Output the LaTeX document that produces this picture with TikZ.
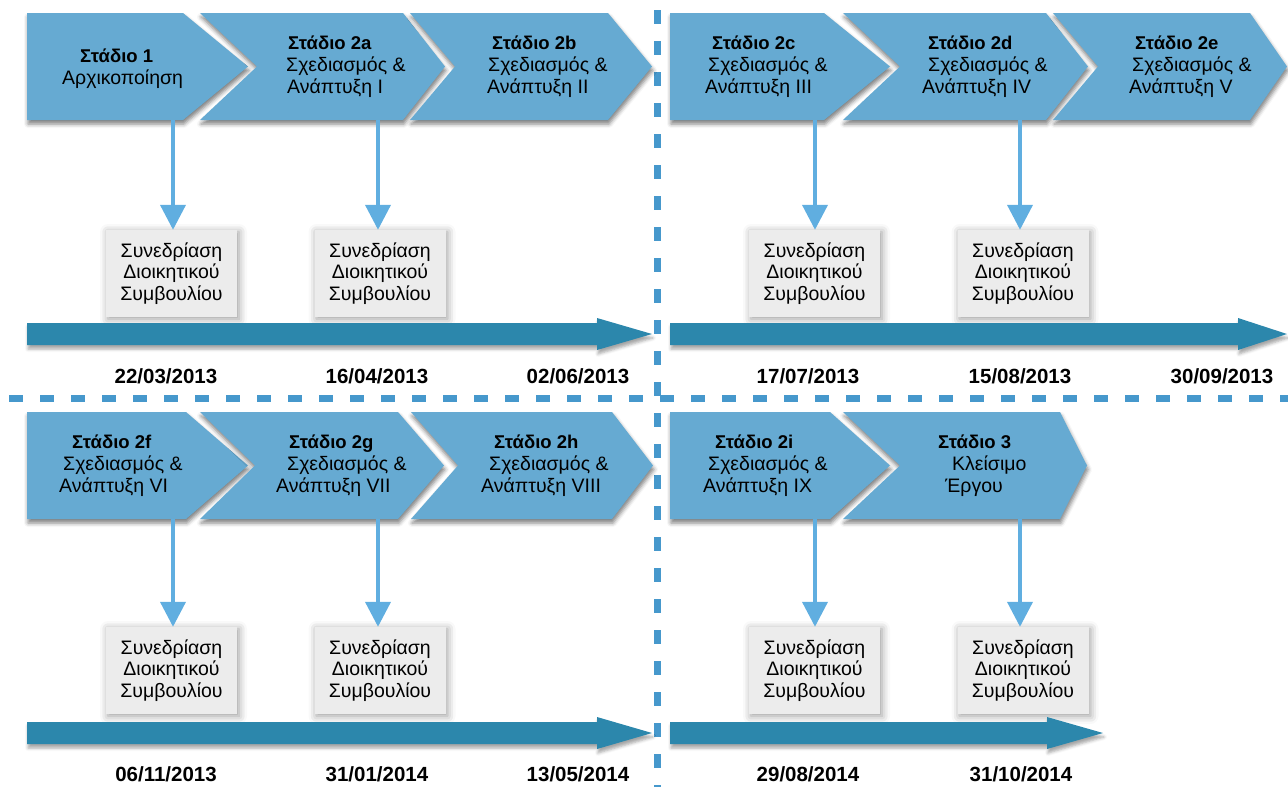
\documentclass[tikz,border=0pt]{standalone}
\usepackage{fontspec}
\setmainfont{Liberation Sans}
\usetikzlibrary{arrows.meta,shadows.blur}

\definecolor{chevfill}{RGB}{102,170,210}
\definecolor{barfill}{RGB}{44,135,172}
\definecolor{sepline}{RGB}{70,152,204}
\definecolor{droparrow}{RGB}{96,174,224}
\definecolor{boxfill}{RGB}{236,236,236}

\newcommand\stagetitle[1]{{\fontsize{18.5}{22}\selectfont\bfseries #1}}

\tikzset{
  chevshape/.style={fill=chevfill,
    blur shadow={shadow xshift=1pt,shadow yshift=-4pt,shadow blur radius=4pt,shadow opacity=50}},
  barshape/.style={fill=barfill,
    blur shadow={shadow xshift=1pt,shadow yshift=-4pt,shadow blur radius=3pt,shadow opacity=35}},
  stagetext/.style={inner sep=0pt,align=left,anchor=west,
    font=\fontsize{19.5}{22}\selectfont},
  meetbox/.style={fill=boxfill,minimum width=131pt,minimum height=87pt,inner sep=0pt,
    align=center,font=\fontsize{19.5}{21.7}\selectfont,
    blur shadow={shadow xshift=2pt,shadow yshift=-2pt,shadow blur radius=8pt,shadow opacity=40}},
  datetext/.style={inner sep=0pt,font=\fontsize{20.5}{22}\selectfont\bfseries},
  dropline/.style={draw=droparrow,line width=4pt,
    -{Triangle[width=25pt,length=25pt]}},
  sepdash/.style={draw=sepline,line width=7pt,
    dash pattern=on 14pt off 17pt,dash phase=21pt}
}

% chevron: left x, notch x, flat x, tip x, top y, bottom y
\newcommand\chevron[6]{%
  \path[chevshape] (#1,#5) -- (#3,#5) -- (#4,{(#5+#6)/2}) -- (#3,#6)
    -- (#1,#6) -- (#2,{(#5+#6)/2}) -- cycle;}
% timeline arrow: left x, head base x, tip x, centre y
\newcommand\timebar[4]{%
  \path[barshape] (#1,{#4-11}) -- (#2,{#4-11}) -- (#2,{#4-16}) -- (#3,#4)
    -- (#2,{#4+16}) -- (#2,{#4+11}) -- (#1,{#4+11}) -- cycle;}

\begin{document}
\begin{tikzpicture}[x=1pt,y=-1pt]
\useasboundingbox (0,0) rectangle (1288,787);

% quadrant separators
\draw[sepdash] (657,0) -- (657,787);
\draw[sepdash,dash phase=22pt] (0,398) -- (1288,398);

% ---------------- top left ----------------
\chevron{27}{27}{183}{248}{13}{120}
\chevron{200}{257}{403}{445}{13}{120}
\chevron{410}{455}{608}{652}{13}{120}
\node[stagetext] (s1) at (62,69) {\hspace*{18pt}\stagetitle{Στάδιο 1}\\Αρχικοποίηση};
\node[stagetext] (s2a) at (286,67) {\hspace*{2pt}\stagetitle{Στάδιο 2a}\\Σχεδιασμός \&\\\hspace*{1pt}Ανάπτυξη I};
\node[stagetext] (s2b) at (487,67) {\hspace*{5pt}\stagetitle{Στάδιο 2b}\\\hspace*{1pt}Σχεδιασμός \&\\Ανάπτυξη II};
\coordinate (b1) at (173,120);
\coordinate (b2) at (378,120);
\node[meetbox] (m1) at (171.5,273.5) {Συνεδρίαση\\Διοικητικού\\Συμβουλίου};
\node[meetbox] (m2) at (380,273.5) {Συνεδρίαση\\Διοικητικού\\Συμβουλίου};
\draw[dropline] (b1) -- (b1 |- m1.north);
\draw[dropline] (b2) -- (b2 |- m2.north);
\timebar{27}{597}{652}{334}
\node[datetext] (d1) at (166,376) {22/03/2013};
\node[datetext] (d2) at (377,376) {16/04/2013};
\node[datetext] (d3) at (578,376) {02/06/2013};

% ---------------- top right ----------------
\chevron{670}{670}{824}{890}{13}{120}
\chevron{843}{900}{1046}{1088}{13}{120}
\chevron{1053}{1098}{1250}{1287}{13}{120}
\node[stagetext] (s2c) at (705,67) {\hspace*{7pt}\stagetitle{Στάδιο 2c}\\\hspace*{3pt}Σχεδιασμός \&\\Ανάπτυξη III};
\node[stagetext] (s2d) at (922,67) {\hspace*{6pt}\stagetitle{Στάδιο 2d}\\\hspace*{6pt}Σχεδιασμός \&\\Ανάπτυξη IV};
\node[stagetext] (s2e) at (1129,67) {\hspace*{6pt}\stagetitle{Στάδιο 2e}\\\hspace*{3pt}Σχεδιασμός \&\\Ανάπτυξη V};
\coordinate (b3) at (815,120);
\coordinate (b4) at (1020,120);
\node[meetbox] (m3) at (814.5,273.5) {Συνεδρίαση\\Διοικητικού\\Συμβουλίου};
\node[meetbox] (m4) at (1023,273.5) {Συνεδρίαση\\Διοικητικού\\Συμβουλίου};
\draw[dropline] (b3) -- (b3 |- m3.north);
\draw[dropline] (b4) -- (b4 |- m4.north);
\timebar{670}{1238}{1287}{334}
\node[datetext] (d4) at (808,376) {17/07/2013};
\node[datetext] (d5) at (1020,376) {15/08/2013};
\node[datetext] (d6) at (1222,376) {30/09/2013};

% ---------------- bottom left ----------------
\chevron{27}{27}{186}{248}{412}{519}
\chevron{200}{255}{398}{444}{412}{519}
\chevron{411}{458}{612}{653}{412}{519}
\node[stagetext] (s2f) at (59,466) {\hspace*{13pt}\stagetitle{Στάδιο 2f}\\\hspace*{4pt}Σχεδιασμός \&\\Ανάπτυξη VI};
\node[stagetext] (s2g) at (276,466) {\hspace*{13pt}\stagetitle{Στάδιο 2g}\\\hspace*{11pt}Σχεδιασμός \&\\Ανάπτυξη VII};
\node[stagetext] (s2h) at (481,466) {\hspace*{13pt}\stagetitle{Στάδιο 2h}\\\hspace*{8pt}Σχεδιασμός \&\\Ανάπτυξη VIII};
\coordinate (b5) at (173,519);
\coordinate (b6) at (378,519);
\node[meetbox] (m5) at (171.5,670.5) {Συνεδρίαση\\Διοικητικού\\Συμβουλίου};
\node[meetbox] (m6) at (380,670.5) {Συνεδρίαση\\Διοικητικού\\Συμβουλίου};
\draw[dropline] (b5) -- (b5 |- m5.north);
\draw[dropline] (b6) -- (b6 |- m6.north);
\timebar{27}{597}{652}{733}
\node[datetext] (d7) at (166,774) {06/11/2013};
\node[datetext] (d8) at (377,774) {31/01/2014};
\node[datetext] (d9) at (578,774) {13/05/2014};

% ---------------- bottom right ----------------
\chevron{670}{670}{830}{890}{412}{519}
\chevron{843}{900}{1060}{1087}{412}{519}
\node[stagetext] (s2i) at (703,466) {\hspace*{12pt}\stagetitle{Στάδιο 2i}\\\hspace*{5pt}Σχεδιασμός \&\\Ανάπτυξη IX};
\node[stagetext] (s3) at (938,466) {\stagetitle{Στάδιο 3}\\\hspace*{14pt}Κλείσιμο\\\hspace*{7pt}Έργου};
\coordinate (b7) at (815,519);
\coordinate (b8) at (1020,519);
\node[meetbox] (m7) at (814.5,670.5) {Συνεδρίαση\\Διοικητικού\\Συμβουλίου};
\node[meetbox] (m8) at (1023,670.5) {Συνεδρίαση\\Διοικητικού\\Συμβουλίου};
\draw[dropline] (b7) -- (b7 |- m7.north);
\draw[dropline] (b8) -- (b8 |- m8.north);
\timebar{670}{1047}{1103}{733}
\node[datetext] (d10) at (808,774) {29/08/2014};
\node[datetext] (d11) at (1021,774) {31/10/2014};
\end{tikzpicture}
\end{document}
